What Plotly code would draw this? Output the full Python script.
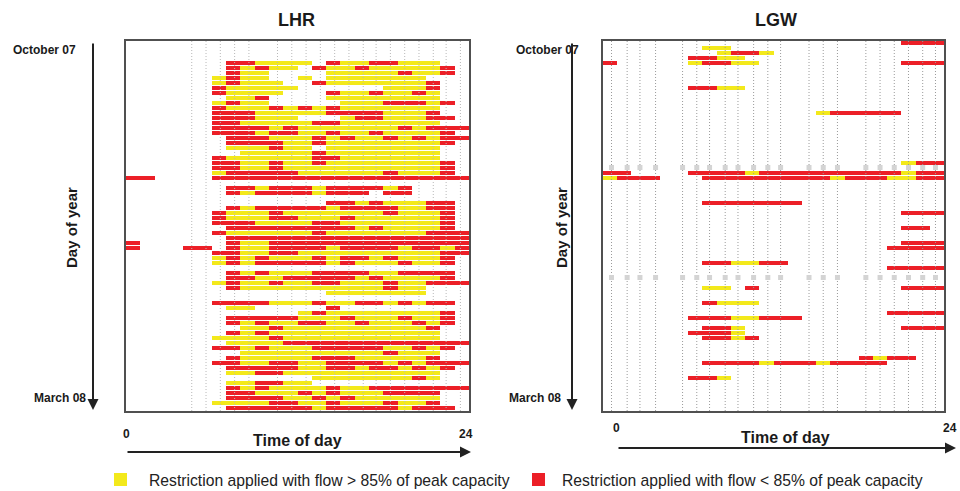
import plotly.graph_objects as go

# ---------------- data ----------------
hours = list(range(24))  # hourly time slots, 0..23
# Each entry = one period (~2 days) from October 07 (top) to March 08 (bottom)
# tokens "Ya-b" / "Ra-b": restriction in hours [a, b), Y = flow > 85%, R = flow < 85%
lhr_rows = [
    "", "", "", "",
    "R7-9 Y9-13 R14-15 Y15-17 R17-19 Y19-22",
    "R7-8 Y8-9 R9-10 Y10-12 R13-14 Y14-16 R16-17 Y17-22 R22-23",
    "R7-8 Y8-10 Y14-19 R19-20 Y20-22 R22-23",
    "Y6-7 R7-8 Y8-10 Y12-13 Y14-21",
    "Y6-7 R7-8 Y8-11 R13-14 Y14-21 R21-22",
    "R6-7 Y7-12 Y18-21 R21-22",
    "R6-7 Y7-11 R14-15 Y15-17 R17-18 Y18-20 R20-21 Y21-22",
    "Y7-9 R9-10 Y14-22",
    "Y6-7 R7-8 Y8-10 Y15-18 R18-21 Y21-22 R22-23",
    "R6-7 Y7-10 R10-11 Y11-12 R12-13 Y13-14 R14-15 Y15-22",
    "R6-9 Y9-14 R14-18 Y18-21 R21-22",
    "R6-9 Y9-12 Y15-16 R16-18 Y18-21 R21-23",
    "R6-8 Y8-13 R13-15 Y15-22",
    "R6-10 Y10-11 R11-12 Y12-19 R19-20 Y20-21 R21-24",
    "R6-9 Y9-10 R10-12 Y12-14 R14-15 Y15-17 R17-18 Y18-22 R22-23",
    "R7-10 Y10-13 R13-14 Y14-15 R15-16 Y16-18 R18-19 Y19-20 R20-21 Y21-22 R22-24",
    "R7-11 Y11-13 R13-14 Y14-22 R22-23",
    "Y7-10 R10-11 Y11-13 Y14-22",
    "Y8-13 R13-14 Y14-22",
    "R6-7 Y7-13 R13-15 Y15-22",
    "R6-8 Y8-10 R10-11 Y11-13 R13-14 Y14-22 R22-23",
    "R6-8 Y8-10 R10-11 Y11-22 R22-23",
    "Y6-7 R7-12 Y12-18 R18-19 Y19-22 R22-23",
    "R0-2 R6-24",
    "",
    "R7-9 Y9-10 R10-13 Y13-14 R14-18 Y18-19 R19-20",
    "R7-8 Y8-9 R9-13 Y13-14 R14-17 R18-20",
    "",
    "R14-16 Y16-17 R17-18 Y18-21 R21-23",
    "R7-8 Y8-9 R9-14 Y14-15 R15-19 Y19-21 R21-23",
    "R6-7 Y7-10 R10-11 Y11-18 R18-19 Y19-22 R22-23",
    "R6-7 Y7-10 R10-12 Y12-15 R15-16 Y16-22 R22-23",
    "R6-9 Y9-13 R13-15 Y15-22 R22-23",
    "R7-16 Y16-17 R17-18 Y18-22 R22-23",
    "R6-7 Y7-13 R13-14 Y14-21 R21-24",
    "R7-24",
    "R0-1 R7-8 Y8-10 R10-24",
    "R0-1 R4-6 R7-8 Y8-10 R10-14 Y14-15 R15-19 Y19-20 R20-22 Y22-23 R23-24",
    "R6-8 Y8-10 R10-12 Y12-22 R22-24",
    "Y6-7 R7-8 Y8-9 R9-10 Y10-13 R13-14 Y14-15 R15-17 Y17-18 R18-19 Y19-22 R22-23",
    "Y6-7 R7-8 Y8-9 R9-14 Y14-15 R15-16 Y16-19 R19-20 Y20-22 R22-23",
    "",
    "R7-8 Y8-9 R9-10 Y10-13 R13-17 Y17-19 R19-23",
    "R7-9 Y9-11 R11-16 Y16-17 R17-18 Y18-22 R22-23",
    "Y6-7 R7-8 Y8-10 R10-11 Y11-13 R13-15 Y15-18 R18-19 Y19-21 R21-24",
    "R7-8 Y8-18 R18-19 Y19-21",
    "Y14-21",
    "",
    "R6-10 Y10-13 R13-14 Y14-16 R16-18 Y18-19 R19-20 Y20-21 R21-23",
    "Y7-9 R14-15",
    "Y12-13 R13-14 Y14-22 R22-23",
    "R7-12 Y12-15 R15-16 Y16-19 R19-20 Y20-22 R22-23",
    "R7-8 Y8-9 R9-10 Y10-12 R12-14 Y14-16 R16-17 Y17-20 R20-21 Y21-22 R22-23",
    "Y8-10 R10-11 Y11-21 R21-22",
    "R7-8 Y8-9 R9-10 Y10-22",
    "Y6-10 R10-11 Y11-22",
    "Y7-11 R11-24",
    "R6-8 Y8-9 R9-10 Y10-13 R13-18 Y18-20 R20-21 Y21-22 R22-23",
    "Y8-18 R18-19 Y19-22",
    "R7-8 Y8-13 R13-16 Y16-21 R21-22",
    "R6-8 Y8-10 R10-12 Y12-14 R14-18 Y18-19 R19-20 Y20-21 R21-24",
    "R7-12 Y12-14 R14-16 Y16-17 R17-19 Y19-20 R20-21 Y21-22 R22-23",
    "Y7-9 R9-11 Y11-22",
    "Y13-20 R20-21 Y21-22",
    "Y7-9 R9-11 Y11-13",
    "R7-8 Y8-9 R9-10 Y10-14 R14-15 Y15-17 R17-24",
    "R7-9 Y9-12 R12-13 Y13-14 R14-15 Y15-18 R18-22",
    "R7-11 Y11-13 R13-14 Y14-15 R15-16 Y16-22",
    "Y6-10 R10-12 Y12-14 R14-15 Y15-18 R18-19 Y19-21 R21-22",
    "R7-13 Y13-14 R14-19 Y19-20 R20-23",
]

lgw_rows = [""] * 74
lgw_entries = {
    0: "R21-24",
    1: "Y7-9",
    2: "Y8-9 R9-11 Y11-12",
    3: "R6-8 Y8-10",
    4: "R0-1 Y6-7 R7-9 Y9-11 R21-24",
    9: "R6-8 Y8-10",
    14: "Y15-16 R16-21",
    24: "Y21-22 R22-24",
    26: "R0-2 R6-10 Y10-11 R11-21 Y21-22 R22-24",
    27: "Y0-1 R1-4 R7-16 Y16-17 R17-20 Y20-22 R22-24",
    32: "R7-14",
    34: "R21-24",
    37: "R21-23",
    40: "R21-24",
    41: "R20-24",
    44: "R7-9 Y9-11 R11-13",
    45: "R20-24",
    49: "Y7-9 R10-11 R21-24",
    52: "R7-8 Y8-11",
    54: "R20-24",
    55: "R6-9 Y9-11 R11-14",
    57: "R7-9 Y9-10 R21-24",
    58: "R6-9 Y9-10",
    59: "R7-9 Y9-10 R10-11",
    63: "R18-19 Y19-20 R20-22",
    64: "R7-11 Y11-12 R12-15 Y15-16 R16-20",
    67: "R6-8 Y8-9",
}
for k, v in lgw_entries.items():
    lgw_rows[k] = v

# hours of scheduled (unrestricted) movements, drawn as faint dotted columns
lhr_dot_hours = [4.6, 5.6, 6.6, 7.6, 8.6, 10.6, 11.6, 12.6, 13.6, 14.6, 15.6,
                 16.6, 17.5, 18.5, 19.5, 20.5, 21.5, 22.4, 23.4]
lgw_dot_hours = [0.6, 1.7, 2.6, 3.7, 5.6, 6.6, 7.5, 8.6, 9.5, 10.6, 11.6, 12.5,
                 14.5, 15.5, 16.5, 18.5, 19.5, 20.5, 21.5, 22.5, 23.4]
lgw_gray_rows = [24.8, 46.8]

legend_labels = ["Restriction applied with flow > 85% of peak capacity",
                 "Restriction applied with flow < 85% of peak capacity"]

# ---------------- styling ----------------
YEL = "#f3e91b"
RED = "#ec1f27"
FONT = "Liberation Sans, Arial, sans-serif"
W, H = 960, 491


def build(rows):
    z = [[None] * 24 for _ in rows]
    for i, spec in enumerate(rows):
        for tok in spec.split():
            c = tok[0]
            a, b = map(int, tok[1:].split("-"))
            for h in range(a, b):
                z[i][h] = 1 if c == "Y" else 2
    return z


fig = go.Figure()
nrows = len(lhr_rows)
row_idx = list(range(nrows))
xc = [h + 0.5 for h in hours]


def dots(hlist, color, xa, ya):
    xs, ys = [], []
    for h in hlist:
        xs += [h, h, None]
        ys += [-0.5, nrows - 0.5, None]
    fig.add_trace(go.Scatter(x=xs, y=ys, mode="lines",
                             line=dict(color=color, width=1, dash="1px,2px"),
                             xaxis=xa, yaxis=ya, hoverinfo="skip"))


cs = [[0, YEL], [0.5, YEL], [0.5, RED], [1, RED]]

dots(lhr_dot_hours, "#b8b8b8", "x", "y")
fig.add_trace(go.Heatmap(z=build(lhr_rows), x=xc, y=row_idx, colorscale=cs,
                         zmin=1, zmax=2, showscale=False, ygap=1,
                         hoverinfo="skip", xaxis="x", yaxis="y"))

dots(lgw_dot_hours, "#9a9a9a", "x2", "y2")
gx, gy = [], []
for r in lgw_gray_rows:
    for h in lgw_dot_hours:
        gx.append(h)
        gy.append(r)
fig.add_trace(go.Scatter(x=gx, y=gy, mode="markers",
                         marker=dict(symbol="square", size=5, color="#d4d4d4"),
                         xaxis="x2", yaxis="y2", hoverinfo="skip"))
fig.add_trace(go.Heatmap(z=build(lgw_rows), x=xc, y=row_idx, colorscale=cs,
                         zmin=1, zmax=2, showscale=False, ygap=1,
                         hoverinfo="skip", xaxis="x2", yaxis="y2"))

ax_common = dict(showgrid=False, zeroline=False, showticklabels=False,
                 ticks="", showline=True, mirror=True, linecolor="#505050",
                 linewidth=2)
ydom = [1 - 411 / H, 1 - 41 / H]
fig.update_layout(
    width=W, height=H, margin=dict(l=0, r=0, t=0, b=0),
    paper_bgcolor="white", plot_bgcolor="white", showlegend=False,
    xaxis=dict(domain=[126 / W, 469 / W], range=[0, 24], **ax_common),
    yaxis=dict(domain=ydom, range=[nrows - 0.5, -0.5], **ax_common),
    xaxis2=dict(domain=[603 / W, 944 / W], range=[0, 24], anchor="y2", **ax_common),
    yaxis2=dict(domain=ydom, range=[nrows - 0.5, -0.5], anchor="x2", **ax_common),
)


def px(x):
    return x / W


def py(y):
    return 1 - y / H


def text(x, y, s, size, bold=True, xanchor="center", angle=0, color="#1a1a1a"):
    fig.add_annotation(x=px(x), y=py(y), xref="paper", yref="paper",
                       text=f"<b>{s}</b>" if bold else s, showarrow=False,
                       xanchor=xanchor, yanchor="middle", textangle=angle,
                       font=dict(family=FONT, size=size, color=color))


def arrow(x0, y0, x1, y1):
    fig.add_annotation(x=px(x1), y=py(y1), xref="paper", yref="paper",
                       ax=x0 - x1, ay=y0 - y1, text="", showarrow=True,
                       arrowhead=2, arrowsize=1.1, arrowwidth=2,
                       arrowcolor="#222")


# titles
text(296, 20, "LHR", 18)
text(776, 20, "LGW", 18)

# LHR side / bottom labels
text(78, 50, "October 07", 12, xanchor="right")
text(88, 398, "March 08", 12, xanchor="right")
text(71, 228, "Day of year", 15, angle=-90)
arrow(93, 42, 93, 410)
text(126, 434, "0", 12)
text(466, 434, "24", 12)
text(297, 440, "Time of day", 16)
arrow(126, 452, 471, 452)

# LGW side / bottom labels
text(581, 50, "October 07", 12, xanchor="right")
text(563, 398, "March 08", 12, xanchor="right")
text(561, 228, "Day of year", 15, angle=-90)
arrow(572, 42, 572, 410)
text(616, 428, "0", 12)
text(959, 428, "24", 12, xanchor="right")
text(785, 437, "Time of day", 16)
arrow(617, 448, 956, 448)

# legend
fig.add_shape(type="rect", xref="paper", yref="paper",
              x0=px(114), x1=px(127), y0=py(486), y1=py(473),
              fillcolor=YEL, line=dict(width=0))
fig.add_shape(type="rect", xref="paper", yref="paper",
              x0=px(532), x1=px(545), y0=py(486), y1=py(473),
              fillcolor=RED, line=dict(width=0))
text(147, 480, legend_labels[0], 15.7, bold=False, xanchor="left", color="#222")
text(560, 480, legend_labels[1], 15.7, bold=False, xanchor="left", color="#222")

fig.write_html("out.html", config={"displayModeBar": False},
               post_script="document.body.style.margin='0';"
                           "document.body.style.overflow='hidden';")
